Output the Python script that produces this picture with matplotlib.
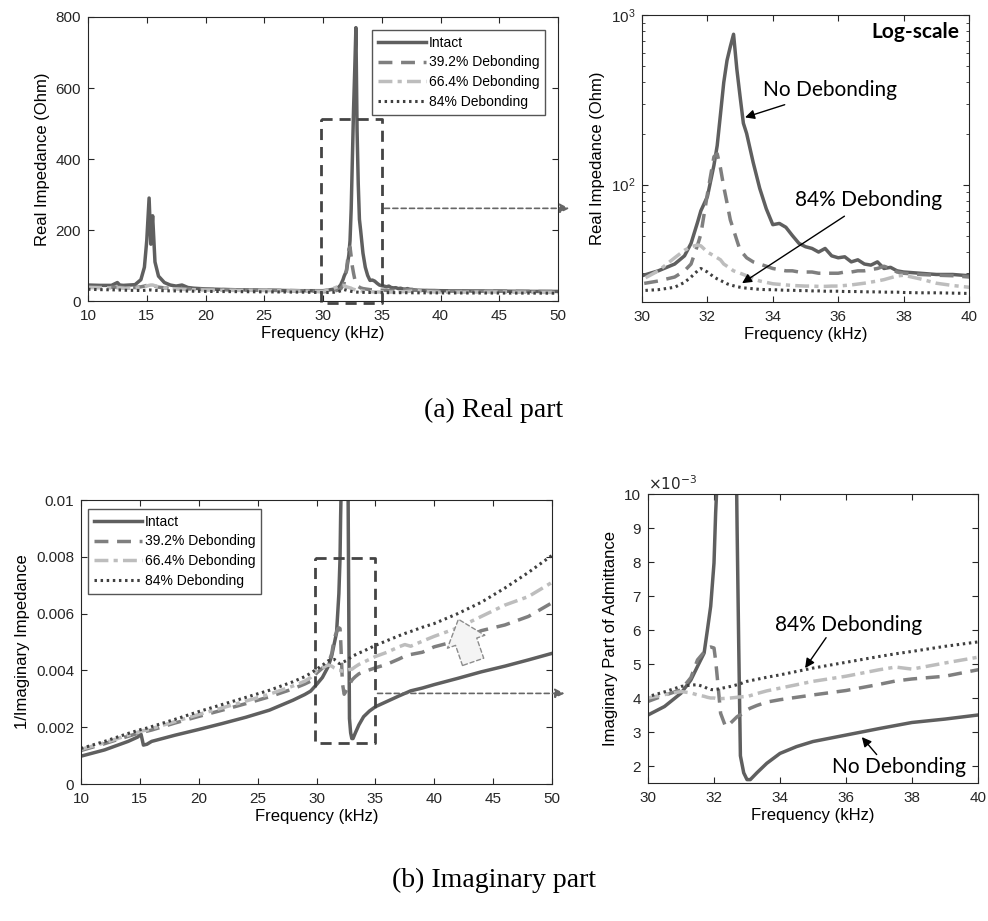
import numpy as np
import matplotlib
matplotlib.use("Agg")
import matplotlib.pyplot as plt

plt.rcParams['font.family'] = ['Liberation Sans', 'DejaVu Sans']
plt.rcParams['font.size'] = 10

# ---- real part data (Ohm) ----
f_re = [10, 11, 12, 12.5, 12.7, 13, 13.5, 14, 14.5, 14.8, 15.0, 15.2, 15.35, 15.5, 15.7, 16, 16.5, 17,
        17.5, 18, 18.5, 19, 20, 22, 24, 26, 28, 29, 30, 30.5, 31, 31.3, 31.5, 31.7, 31.8, 32, 32.2,
        32.3, 32.4, 32.5, 32.6, 32.7, 32.8, 32.9, 33.0, 33.1, 33.2, 33.4, 33.6, 33.8, 34.0, 34.2, 34.4,
        34.6, 34.8, 35.0, 35.2, 35.4, 35.6, 35.8, 36.0, 36.2, 36.4, 36.6, 36.8, 37.0, 37.2, 37.4, 37.6,
        37.8, 38.0, 38.5, 39, 39.5, 40, 42, 44, 46, 48, 50]
re_intact = [45, 44, 44, 52, 45, 44, 45, 46, 60, 95, 170, 290, 160, 240, 110, 70, 52, 45,
             42, 45, 38, 36, 34, 32, 31, 30, 29, 29, 29, 31, 34, 38, 45, 60, 70, 85, 130,
             170, 260, 400, 540, 650, 770, 480, 330, 230, 200, 135, 95, 72, 58, 59, 56,
             50, 45, 43, 42, 40, 42, 38, 37, 37.5, 35, 36, 34, 33.5, 35, 32, 32.5,
             31, 30.5, 30, 29.5, 29.5, 29, 28.5, 28, 27.5, 27, 27]
re_39 = [40, 39, 39, 39, 39, 38, 38, 38, 40, 42, 44, 46, 47, 46, 42, 39, 37, 36,
         35, 35, 34, 34, 33, 32, 31, 30, 29, 28, 26, 27, 28.5, 31, 34, 44, 51, 88, 146,
         152, 125, 97, 78, 62, 54, 47, 41, 39, 37, 35, 34, 33, 32, 31.5, 31,
         31, 30.5, 30.5, 30.5, 30, 30, 30, 30, 30.5, 30.5, 31, 31, 31.5, 32, 33, 32,
         30.5, 30, 29.5, 29.2, 29, 28.5, 28, 29, 27.5, 27, 26.5]
re_66 = [38, 37, 37, 37, 37, 36, 36, 36, 38, 40, 42, 44, 45, 45, 43, 40, 37, 35,
         34, 33, 32, 32, 31, 30, 30, 29, 28, 27.5, 27.5, 31, 37, 41, 43, 44, 43.5, 40, 38,
         37, 36, 34, 33, 32, 31, 30.5, 30, 29.5, 29, 27.8, 27, 26.5, 26, 25.8, 25.6,
         25.4, 25.3, 25.2, 25.2, 25.1, 25.1, 25.2, 25.2, 25.4, 25.6, 25.9, 26.2, 26.6, 27, 27.5, 28.2,
         28.9, 29.2, 27.8, 26.2, 25.4, 24.8, 25, 25.5, 25, 24.5, 24]
re_84 = [33, 32, 31.5, 31, 31, 30.5, 30, 30, 29.5, 30, 30.5, 31, 31, 30.5, 30, 29.5, 29, 28.5,
         28.5, 28, 28, 27.5, 27, 26.5, 26, 25.5, 25, 24.5, 23.7, 24, 24.8, 26.5, 28.5, 31, 32, 30.5, 28.5,
         27.8, 27.2, 26.6, 26, 25.6, 25.3, 25, 24.8, 24.6, 24.5, 24.3, 24.1, 24, 24, 23.9, 23.8,
         23.8, 23.7, 23.7, 23.6, 23.6, 23.5, 23.5, 23.5, 23.4, 23.4, 23.4, 23.3, 23.3, 23.3, 23.2, 23.2,
         23.2, 23.1, 23, 23, 22.9, 22.8, 22.6, 22.5, 22.3, 22.2, 22]

# ---- imaginary part data (1/Imag impedance, x1e-3) ----
f_im = [10, 12, 14, 14.8, 15.1, 15.3, 15.6, 16, 18, 20, 22, 24, 26, 28, 29, 29.5, 30, 30.5, 31, 31.3,
        31.5, 31.7, 31.8, 31.9, 32.0, 32.05, 32.1, 32.2, 32.35, 32.5, 32.7, 32.75, 32.8, 32.9, 33.0,
        33.1, 33.3, 33.6, 34, 34.5, 35, 36, 37, 37.5, 38, 39, 40, 42, 44, 46, 48, 50]
im_intact = [0.98, 1.2, 1.5, 1.65, 1.75, 1.37, 1.4, 1.5, 1.72, 1.92, 2.13, 2.35, 2.6, 2.95, 3.15, 3.27,
             3.5, 3.75, 4.14, 4.53, 4.93, 5.32, 6.0, 6.7, 7.97, 9.45, 10.5, 15, 30, 25, 9.0, 5.5, 2.3,
             1.8, 1.6, 1.6, 1.8, 2.08, 2.37, 2.57, 2.72, 2.91, 3.1, 3.19, 3.28, 3.38, 3.5, 3.72, 3.95,
             4.15, 4.37, 4.6]
im_39 = [1.18, 1.42, 1.68, 1.78, 1.82, 1.83, 1.86, 1.9, 2.15, 2.38, 2.6, 2.83, 3.07, 3.35, 3.52, 3.62,
         3.9, 4.08, 4.24, 4.6, 5.12, 5.35, 5.47, 5.5, 5.47, 5.1, 4.6, 3.55, 3.16, 3.26, 3.45, 3.48, 3.5,
         3.58, 3.65, 3.7, 3.78, 3.88, 3.95, 4.02, 4.09, 4.22, 4.4, 4.5, 4.56, 4.64, 4.83, 5.05, 5.4,
         5.6, 5.9, 6.38]
im_66 = [1.22, 1.45, 1.72, 1.82, 1.86, 1.88, 1.9, 1.95, 2.2, 2.45, 2.68, 2.92, 3.16, 3.45, 3.62, 3.75,
         4.0, 4.1, 4.19, 4.15, 4.09, 4.05, 4.02, 4.0, 4.0, 3.99, 3.98, 3.98, 3.99, 4.0, 4.02, 4.03, 4.03,
         4.04, 4.04, 4.07, 4.13, 4.21, 4.29, 4.39, 4.49, 4.64, 4.83, 4.91, 4.85, 5.03, 5.2, 5.5, 5.9,
         6.3, 6.6, 7.1]
im_84 = [1.25, 1.5, 1.78, 1.88, 1.92, 1.94, 1.97, 2.02, 2.28, 2.55, 2.8, 3.05, 3.3, 3.6, 3.78, 3.9,
         4.04, 4.18, 4.34, 4.38, 4.39, 4.33, 4.28, 4.25, 4.24, 4.25, 4.26, 4.28, 4.31, 4.34, 4.39, 4.4,
         4.42, 4.46, 4.49, 4.51, 4.55, 4.61, 4.68, 4.78, 4.88, 5.05, 5.22, 5.3, 5.37, 5.52, 5.65, 6.0,
         6.4, 6.9, 7.45, 8.05]

labels = ['Intact', '39.2% Debonding', '66.4% Debonding', '84% Debonding']
styles = [dict(color='#5f5f5f', ls='-', lw=2.5),
          dict(color='#7f7f7f', ls=(0, (4, 2.5)), lw=2.5),
          dict(color='#bdbdbd', ls=(0, (4, 1.5, 1.2, 1.5)), lw=2.5),
          dict(color='#3f3f3f', ls=(0, (0.8, 1.2)), lw=2.2)]

W, H = 988, 921
fig = plt.figure(figsize=(W / 100, H / 100), dpi=100)


def px_axes(l, t, r, b):
    return fig.add_axes([l / W, (H - b) / H, (r - l) / W, (b - t) / H])


def matlab_style(ax):
    ax.tick_params(direction='in', top=True, right=True, which='both', colors='#262626',
                   labelsize=11, length=4)
    ax.tick_params(axis='x', pad=6)
    ax.tick_params(axis='y', pad=5)
    for s in ax.spines.values():
        s.set_color('#262626')
        s.set_linewidth(0.8)


rect_kw = dict(color='#444444', lw=2, ls=(0, (4, 2.5)), clip_on=False)
arrow_kw = dict(arrowstyle='-|>', color='#666666', lw=1.2, ls=(0, (3, 2)), mutation_scale=14)
lab_fs = 12

# ---------- (a) left ----------
ax1 = px_axes(88, 17, 558, 301)
for y, lab, st in zip([re_intact, re_39, re_66, re_84], labels, styles):
    ax1.plot(f_re, y, label=lab, **st)
ax1.set_xlim(10, 50)
ax1.set_ylim(0, 800)
ax1.set_xticks(range(10, 51, 5))
ax1.set_yticks(range(0, 801, 200))
ax1.set_xlabel('Frequency (kHz)', fontsize=lab_fs, labelpad=2)
ax1.set_ylabel('Real Impedance (Ohm)', fontsize=lab_fs)
matlab_style(ax1)
leg = ax1.legend(loc='upper right', bbox_to_anchor=(1 - 13 / 470, 1 - 13 / 284), borderaxespad=0,
                 fancybox=False, edgecolor='#555555', framealpha=1, handlelength=3.5,
                 handletextpad=0.2, labelspacing=0.42, fontsize=10)
leg.get_frame().set_linewidth(1.0)
ax1.plot([29.85, 35.0, 35.0, 29.85, 29.85], [513, 513, -7, -7, 513], **rect_kw)
ax1.annotate('', xy=(51.2, 261), xytext=(35.0, 261), arrowprops=arrow_kw, annotation_clip=False)

# ---------- (a) right ----------
ax2 = px_axes(642, 15, 969, 302)
for y, st in zip([re_intact, re_39, re_66, re_84], styles):
    ax2.plot(f_re, y, **st)
ax2.set_yscale('log')
ax2.set_xlim(30, 40)
ax2.set_ylim(20.3, 1000)
ax2.set_xticks(range(30, 41, 2))
ax2.set_xlabel('Frequency (kHz)', fontsize=lab_fs, labelpad=2)
ax2.set_ylabel('Real Impedance (Ohm)', fontsize=lab_fs)
matlab_style(ax2)
ax2.tick_params(which='minor', length=2.5)
ax2.yaxis.set_minor_formatter(matplotlib.ticker.NullFormatter())
ax2.text(0.97, 0.94, 'Log-scale', transform=ax2.transAxes, ha='right', va='center',
         fontsize=15, fontweight='bold', family='Lato')
ax2.annotate('No Debonding', xy=(33.15, 249), xytext=(33.7, 360), va='center', ha='left',
             fontsize=15, family='Lato',
             arrowprops=dict(arrowstyle='-|>', color='black', lw=1, mutation_scale=14,
                             shrinkA=4, shrinkB=0))
ax2.annotate('84% Debonding', xy=(33.06, 26.2), xytext=(34.68, 80.7), va='center', ha='left',
             fontsize=15, family='Lato',
             arrowprops=dict(arrowstyle='-|>', color='black', lw=1, mutation_scale=14,
                             shrinkA=4, shrinkB=0))

# ---------- (b) left ----------
ax3 = px_axes(81, 500, 552, 784)
for y, lab, st in zip([im_intact, im_39, im_66, im_84], labels, styles):
    ax3.plot(f_im, np.array(y) * 1e-3, label=lab, **st)
ax3.set_xlim(10, 50)
ax3.set_ylim(0, 0.01)
ax3.set_xticks(range(10, 51, 5))
ax3.set_yticks([0, 0.002, 0.004, 0.006, 0.008, 0.01])
ax3.set_yticklabels(['0', '0.002', '0.004', '0.006', '0.008', '0.01'])
ax3.set_xlabel('Frequency (kHz)', fontsize=lab_fs, labelpad=2)
ax3.set_ylabel('1/Imaginary Impedance', fontsize=lab_fs)
matlab_style(ax3)
leg = ax3.legend(loc='upper left', bbox_to_anchor=(7 / 471, 1 - 9 / 284), borderaxespad=0,
                 fancybox=False, edgecolor='#555555', framealpha=1, handlelength=3.5,
                 handletextpad=0.2, labelspacing=0.42, fontsize=10)
leg.get_frame().set_linewidth(1.0)
ax3.plot([29.85, 34.95, 34.95, 29.85, 29.85], [0.00797, 0.00797, 0.00143, 0.00143, 0.00797], **rect_kw)
ax3.annotate('', xy=(51.3, 0.00319), xytext=(34.95, 0.00319), arrowprops=arrow_kw, annotation_clip=False)
ax3.annotate('', xy=(42.05, 0.0058), xytext=(43.3, 0.0043),
             arrowprops=dict(arrowstyle='simple,head_length=0.9,head_width=1.5,tail_width=0.85',
                             fc='#f4f4f4', ec='#8c8c8c', ls=(0, (3, 2)), lw=1,
                             mutation_scale=19, shrinkA=0, shrinkB=0), zorder=10)

# ---------- (b) right ----------
ax4 = px_axes(648, 494, 978, 783)
for y, st in zip([im_intact, im_39, im_66, im_84], styles):
    ax4.plot(f_im, y, **st)
ax4.set_xlim(30, 40)
ax4.set_ylim(1.5, 10)
ax4.set_xticks(range(30, 41, 2))
ax4.set_yticks(range(2, 11))
ax4.set_xlabel('Frequency (kHz)', fontsize=lab_fs, labelpad=2)
ax4.set_ylabel('Imaginary Part of Admittance', fontsize=lab_fs)
matlab_style(ax4)
ax4.text(0.0, 1.003, r'$\times10^{-3}$', transform=ax4.transAxes, ha='left', va='bottom',
         fontsize=11, color='#262626')
ax4.annotate('84% Debonding', xy=(34.76, 4.88), xytext=(33.85, 6.15), va='center', ha='left',
             fontsize=15, family='Lato',
             arrowprops=dict(arrowstyle='-|>', color='black', lw=1, mutation_scale=14,
                             shrinkA=0, shrinkB=0, relpos=(0.36, 0)))
ax4.annotate('No Debonding', xy=(36.48, 2.85), xytext=(35.58, 1.96), va='center', ha='left',
             fontsize=15, family='Lato',
             arrowprops=dict(arrowstyle='-|>', color='black', lw=1, mutation_scale=14,
                             shrinkA=0, shrinkB=0, relpos=(0.35, 1)))

# ---------- captions ----------
fig.text(0.5, 1 - 410 / H, '(a) Real part', ha='center', va='center', fontsize=20,
         family='Liberation Serif')
fig.text(0.5, 1 - 880 / H, '(b) Imaginary part', ha='center', va='center', fontsize=20,
         family='Liberation Serif')

fig.savefig('out.png', dpi=100)
